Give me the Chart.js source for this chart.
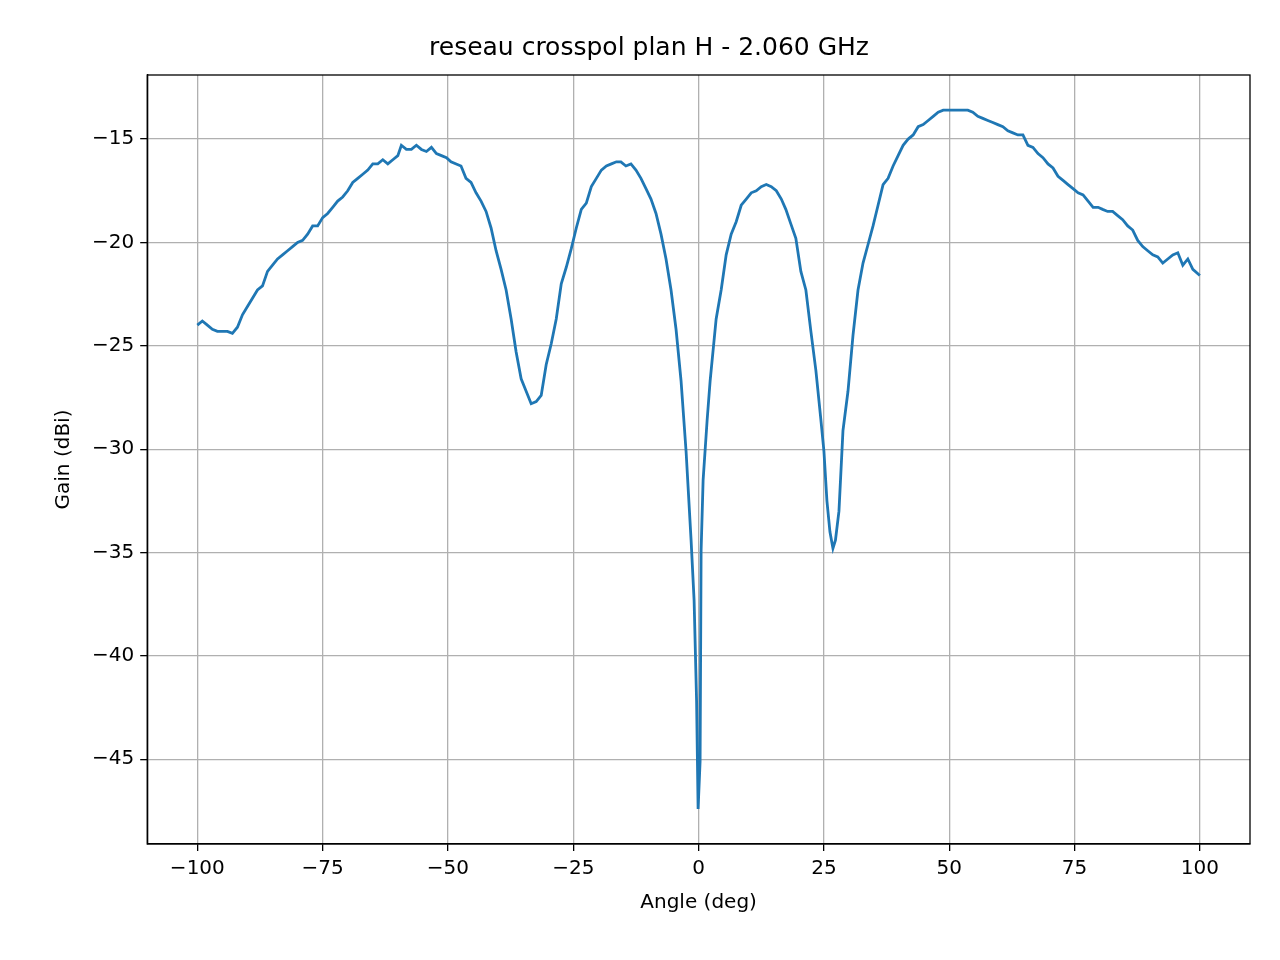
<!DOCTYPE html>
<html>
<head>
<meta charset="utf-8">
<script src="https://cdn.jsdelivr.net/npm/chart.js@4"></script>
<style>
  html, body { margin: 0; padding: 0; background: #fff; }
  #wrap { width: 1280px; height: 960px; }
</style>
</head>
<body>
<div id="wrap"><canvas id="c" width="1280" height="960"></canvas></div>
<script>
// angle (deg) and gain (dBi)
const angles = [
  -100, -99, -98, -97, -96, -95, -94, -93, -92, -91, -90, -89, -88, -87, -86, -85, -84, -83, -82, -81,
  -80, -79, -78, -77, -76, -75, -74, -73, -72, -71, -70, -69, -68, -67, -66, -65, -64, -63, -62, -61, -60,
  -59.3, -58.3, -57.3, -56.3, -55.3, -54.3, -53.3, -52.3, -51.3, -50.3, -49.4, -47.4, -46.4, -45.4, -44.4,
  -43.4, -42.4, -41.4, -40.4, -39.4, -38.4, -37.4, -36.4, -35.4, -34.4, -33.4, -32.4, -31.4, -30.4, -29.4,
  -28.4, -27.4, -26.4, -25.4, -24.4, -23.4, -22.4, -21.4, -20.4, -19.4, -18.4, -17.4, -16.4, -15.5, -14.5,
  -13.5, -12.5, -11.5, -10.5, -9.5, -8.5, -7.5, -6.5, -5.5, -4.5, -3.5, -2.5, -1.5, -0.9, -0.4, -0.1,
  0.3, 0.5, 0.9, 1.7, 2.3, 3.5, 4.5, 5.5, 6.5, 7.5, 8.5, 9.5, 10.5, 11.5, 12.5, 13.5, 14.5, 15.5, 16.5,
  17.4, 18.4, 19.4, 20.4, 21.4, 22.4, 23.4, 24.4, 25.0, 25.6, 26.2, 26.8, 27.3, 28.0, 28.8, 29.8, 30.8,
  31.8, 32.8, 33.8, 34.8, 35.8, 36.8, 37.8, 38.8, 39.8, 40.8, 41.8, 42.8, 43.8, 44.8, 45.8, 46.8, 47.8,
  48.8, 49.8, 50.7, 51.7, 52.7, 53.7, 54.7, 55.7, 56.7, 57.7, 58.7, 59.7, 60.7, 61.7, 62.7, 63.7, 64.7,
  65.7, 66.7, 67.7, 68.7, 69.7, 70.7, 71.7, 72.7, 73.7, 74.7, 75.7, 76.7, 77.7, 78.7, 79.7, 80.6, 81.6,
  82.6, 83.6, 84.6, 85.6, 86.6, 87.6, 88.6, 89.6, 90.6, 91.6, 92.6, 93.6, 94.6, 95.6, 96.6, 97.6, 98.6, 100
];
const gain = [
  -24.0, -23.8, -24.0, -24.2, -24.3, -24.3, -24.3, -24.4, -24.1, -23.5, -23.1, -22.7, -22.3, -22.1, -21.4, -21.1, -20.8, -20.6, -20.4, -20.2,
  -20.0, -19.9, -19.6, -19.2, -19.2, -18.8, -18.6, -18.3, -18.0, -17.8, -17.5, -17.1, -16.9, -16.7, -16.5, -16.2, -16.2, -16.0, -16.2, -16.0, -15.8,
  -15.3, -15.5, -15.5, -15.3, -15.5, -15.6, -15.4, -15.7, -15.8, -15.9, -16.1, -16.3, -16.9, -17.1, -17.6,
  -18.0, -18.5, -19.3, -20.4, -21.3, -22.3, -23.7, -25.3, -26.6, -27.2, -27.8, -27.7, -27.4, -25.9, -24.9,
  -23.7, -22.0, -21.2, -20.3, -19.3, -18.4, -18.1, -17.3, -16.9, -16.5, -16.3, -16.2, -16.1, -16.1, -16.3,
  -16.2, -16.5, -16.9, -17.4, -17.9, -18.6, -19.6, -20.8, -22.3, -24.2, -26.7, -30.1, -34.4, -37.3, -42.2, -47.4,
  -45.1, -34.9, -31.5, -28.6, -26.7, -23.7, -22.3, -20.6, -19.6, -19.0, -18.2, -17.9, -17.6, -17.5, -17.3, -17.2, -17.3, -17.5, -17.9,
  -18.4, -19.1, -19.8, -21.4, -22.3, -24.3, -26.2, -28.6, -30.1, -32.5, -34.0, -34.8, -34.4, -33.0, -29.1, -27.2, -24.5,
  -22.3, -21.0, -20.1, -19.2, -18.2, -17.2, -16.9, -16.3, -15.8, -15.3, -15.0, -14.8, -14.4, -14.3, -14.1, -13.9, -13.7,
  -13.6, -13.6, -13.6, -13.6, -13.6, -13.6, -13.7, -13.9, -14.0, -14.1, -14.2, -14.3, -14.4, -14.6, -14.7, -14.8, -14.8,
  -15.3, -15.4, -15.7, -15.9, -16.2, -16.4, -16.8, -17.0, -17.2, -17.4, -17.6, -17.7, -18.0, -18.3, -18.3, -18.4, -18.5,
  -18.5, -18.7, -18.9, -19.2, -19.4, -19.9, -20.2, -20.4, -20.6, -20.7, -21.0, -20.8, -20.6, -20.5, -21.1, -20.8, -21.3, -21.6
];
const xTicks = [-100, -75, -50, -25, 0, 25, 50, 75, 100];
const yTicks = [-45, -40, -35, -30, -25, -20, -15];

const font = "'DejaVu Sans', sans-serif";
const points = angles.map((a, i) => ({ x: a, y: gain[i] }));
const fmt = v => String(v).replace('-', '\u2212');

new Chart(document.getElementById('c'), {
    type: 'scatter',
    data: {
        datasets: [{
            data: points,
            showLine: true,
            borderColor: '#1f77b4',
            borderWidth: 2.8,
            pointRadius: 0,
            tension: 0
        }]
    },
    options: {
        responsive: false,
        animation: false,
        layout: { padding: { left: 48, right: 30, top: 8, bottom: 41 } },
        plugins: {
            legend: { display: false },
            tooltip: { enabled: false },
            title: {
                display: true,
                text: 'reseau crosspol plan H - 2.060 GHz',
                color: '#000',
                font: { family: font, size: 25, weight: 'normal' },
                padding: { top: 25, bottom: 12 }
            }
        },
        scales: {
            x: {
                type: 'linear',
                min: -110,
                max: 110,
                afterBuildTicks: axis => { axis.ticks = xTicks.map(v => ({ value: v })); },
                ticks: { color: '#000', font: { family: font, size: 20 }, callback: fmt, maxRotation: 0, padding: 6 },
                grid: { color: '#b0b0b0', lineWidth: 1.3, tickLength: 7, tickColor: '#000' },
                border: { color: '#000', width: 1.3 },
                title: { display: true, text: 'Angle (deg)', color: '#000', font: { family: font, size: 20 }, padding: { top: 4 } }
            },
            y: {
                min: -49.1,
                max: -11.9,
                afterBuildTicks: axis => { axis.ticks = yTicks.map(v => ({ value: v })); },
                ticks: { color: '#000', font: { family: font, size: 20 }, callback: fmt, padding: 6 },
                grid: { color: '#b0b0b0', lineWidth: 1.3, tickLength: 7, tickColor: '#000' },
                border: { color: '#000', width: 1.3 },
                title: { display: true, text: 'Gain (dBi)', color: '#000', font: { family: font, size: 20 }, padding: { bottom: 10 } }
            }
        }
    },
    plugins: [{
        id: 'frame',
        afterDraw(chart) {
            const a = chart.chartArea, ctx = chart.ctx;
            ctx.save();
            ctx.strokeStyle = '#000';
            ctx.lineWidth = 1.3;
            ctx.strokeRect(a.left, a.top, a.right - a.left, a.bottom - a.top);
            ctx.restore();
        }
    }]
});
</script>
</body>
</html>
